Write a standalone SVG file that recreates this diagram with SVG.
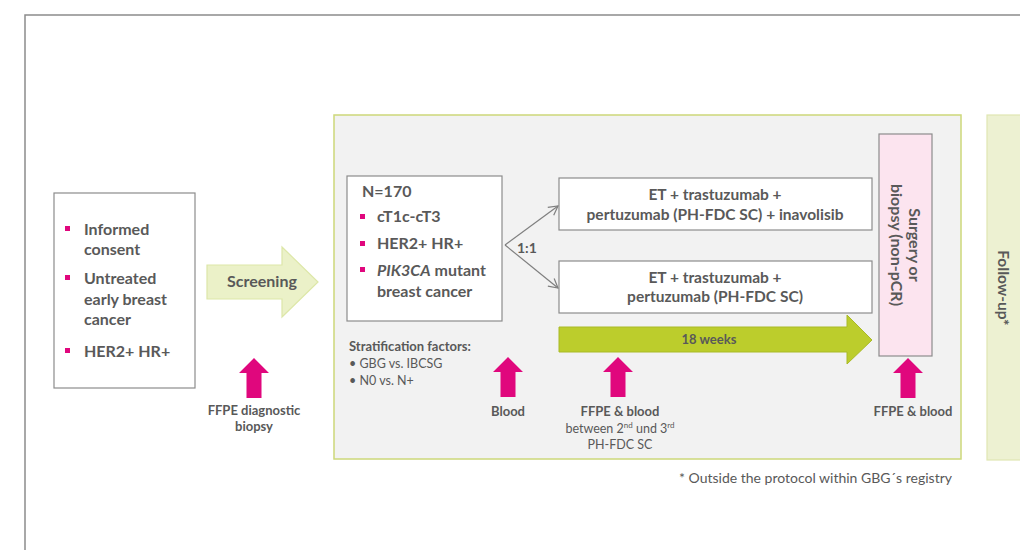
<svg xmlns="http://www.w3.org/2000/svg" width="1020" height="550" viewBox="0 0 1020 550">
<style>
.t{font-family:Lato,"Liberation Sans",sans-serif;fill:#595959}
.b{font-weight:bold}
.m{font-size:16px}
.s{font-size:13px}
.r{font-size:12.5px}
.box{fill:#fff;stroke:#8c8c8c;stroke-width:1.2}
.pk{fill:#e0077d}
.bul{fill:#e0077d}
.ln{fill:none;stroke:#7f7f7f;stroke-width:1.2}
</style>
<defs>
<marker id="ah" markerWidth="12" markerHeight="12" refX="10" refY="6" orient="auto" markerUnits="userSpaceOnUse">
<path d="M1,1 L10,6 L1,11" fill="none" stroke="#7f7f7f" stroke-width="1.2"/>
</marker>
<symbol id="up" overflow="visible">
<path d="M0,0 L15,15 L7.5,15 L7.5,40 L-7.5,40 L-7.5,15 L-15,15 Z"/>
</symbol>
</defs>
<rect width="1020" height="550" fill="#fff"/>
<path d="M25,550 L25,15 L1020,15" fill="none" stroke="#8c8c8c" stroke-width="1.5"/>

<g id="study-area">
<rect x="334" y="115" width="627" height="344" fill="#f2f2f2" stroke="#cdd87a" stroke-width="1.5"/>
</g>

<g id="inclusion">
<rect class="box" x="54" y="193" width="141" height="195"/>
<rect class="bul" x="65" y="226" width="5" height="5"/>
<rect class="bul" x="65" y="275" width="5" height="5"/>
<rect class="bul" x="65" y="348" width="5" height="5"/>
<text class="t b m" x="84" y="235">Informed</text>
<text class="t b m" x="84" y="255">consent</text>
<text class="t b m" x="84" y="284">Untreated</text>
<text class="t b m" x="84" y="305">early breast</text>
<text class="t b m" x="84" y="325">cancer</text>
<text class="t b m" x="84" y="357">HER2+ HR+</text>
</g>

<g id="screening">
<path d="M207,265 L282,265 L282,247 L318,282 L282,317 L282,299 L207,299 Z" fill="#ebf1c8" stroke="#dde7a8" stroke-width="1.2"/>
<text class="t b m" x="262" y="287" text-anchor="middle">Screening</text>
</g>

<g id="biopsy-sample">
<use href="#up" x="254" y="358" class="pk"/>
<text class="t b s" x="254" y="415" text-anchor="middle">FFPE diagnostic</text>
<text class="t b s" x="254" y="431" text-anchor="middle">biopsy</text>
</g>

<g id="population">
<rect class="box" x="347" y="176" width="155" height="145"/>
<text class="t b m" x="362" y="197">N=170</text>
<rect class="bul" x="360" y="214" width="5" height="5"/>
<rect class="bul" x="360" y="241" width="5" height="5"/>
<rect class="bul" x="360" y="267" width="5" height="5"/>
<text class="t b m" x="377" y="222">cT1c-cT3</text>
<text class="t b m" x="377" y="249">HER2+ HR+</text>
<text class="t b m" x="377" y="276"><tspan font-style="italic">PIK3CA</tspan> mutant</text>
<text class="t b m" x="377" y="297">breast cancer</text>
</g>

<g id="connectors">
<path class="ln" d="M505,245 L558,206" marker-end="url(#ah)"/>
<path class="ln" d="M505,245 L558,288" marker-end="url(#ah)"/>
<text class="t b" font-size="14" x="517" y="253">1:1</text>
</g>

<g id="arm-a">
<rect class="box" x="559" y="178" width="313" height="52"/>
<text class="t b" font-size="15.5" x="715" y="200" text-anchor="middle">ET + trastuzumab +</text>
<text class="t b" font-size="15.5" x="715" y="220" text-anchor="middle">pertuzumab (PH-FDC SC) + inavolisib</text>
</g>

<g id="arm-b">
<rect class="box" x="559" y="261" width="313" height="52"/>
<text class="t b" font-size="15.5" x="715" y="283" text-anchor="middle">ET + trastuzumab +</text>
<text class="t b" font-size="15.5" x="715" y="302" text-anchor="middle">pertuzumab (PH-FDC SC)</text>
</g>

<g id="duration">
<path d="M559,327 L847,327 L847,315 L872,340 L847,364 L847,352 L559,352 Z" fill="#bccd2c" stroke="#a9ba26" stroke-width="1"/>
<text class="t b" font-size="13" x="709" y="344" text-anchor="middle">18 weeks</text>
</g>

<g id="strat">
<text class="t b s" x="349" y="351">Stratification factors:</text>
<text class="t r" x="349" y="368">• GBG vs. IBCSG</text>
<text class="t r" x="349" y="385">• N0 vs. N+</text>
</g>

<g id="blood-sample">
<use href="#up" x="508" y="357" class="pk"/>
<text class="t b s" x="508" y="416" text-anchor="middle">Blood</text>
</g>

<g id="mid-sample">
<use href="#up" x="618" y="357" class="pk"/>
<text class="t b s" x="620" y="416" text-anchor="middle">FFPE &amp; blood</text>
<text class="t r" x="620" y="433" text-anchor="middle">between 2<tspan font-size="8" dy="-5">nd</tspan><tspan dy="5"> und 3</tspan><tspan font-size="8" dy="-5">rd</tspan></text>
<text class="t r" x="620" y="449" text-anchor="middle">PH-FDC SC</text>
</g>

<g id="surgery">
<rect x="879" y="134" width="53" height="222" fill="#fce4ef" stroke="#8c8c8c" stroke-width="1.2"/>
<text class="t b" font-size="16" transform="translate(909,245) rotate(90)" text-anchor="middle">Surgery or</text>
<text class="t b" font-size="16" transform="translate(891,245) rotate(90)" text-anchor="middle">biopsy (non-pCR)</text>
</g>

<g id="surgery-sample">
<use href="#up" x="908" y="358" class="pk"/>
<text class="t b s" x="913" y="416" text-anchor="middle">FFPE &amp; blood</text>
</g>

<g id="follow-up">
<rect x="987" y="115" width="40" height="345" fill="#edf1d2" stroke="#dfe7b2" stroke-width="1.2"/>
<text class="t b" font-size="15.5" transform="translate(998,288) rotate(90)" text-anchor="middle">Follow-up*</text>
</g>

<g id="footnote">
<text class="t" font-size="14" x="952" y="483" text-anchor="end">* Outside the protocol within GBG´s registry</text>
</g>
</svg>
